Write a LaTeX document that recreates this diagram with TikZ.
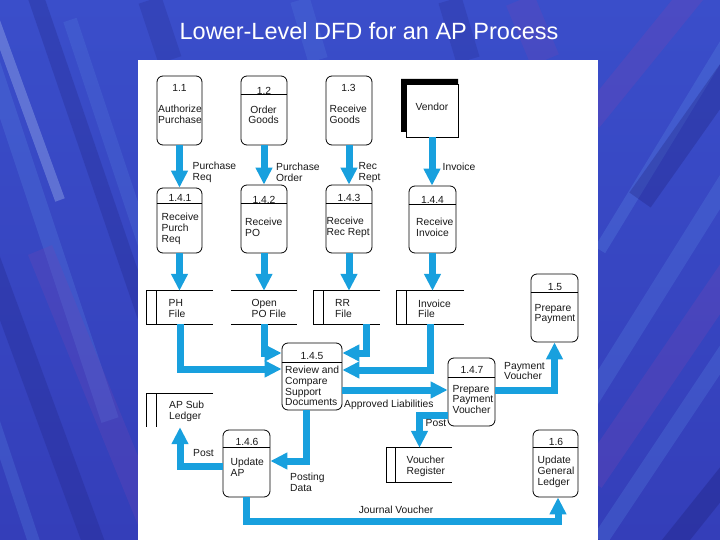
\documentclass[tikz,border=0pt]{standalone}
\usepackage{fontspec}
\setmainfont{Liberation Sans}
\usetikzlibrary{arrows.meta,calc}
\definecolor{flowblue}{RGB}{24,160,222}
\definecolor{bgTop}{RGB}{58,78,202}
\definecolor{bgBot}{RGB}{52,62,185}
\definecolor{navy}{RGB}{30,32,125}
\definecolor{pale}{RGB}{170,190,240}
\definecolor{light}{RGB}{85,125,222}
\definecolor{violet}{RGB}{115,70,180}
\tikzset{
  proc/.style={draw=black, line width=0.8pt, rounded corners=6pt, fill=white, inner sep=0pt},
  storebox/.style={draw=none, inner sep=0pt, minimum width=66pt, minimum height=33pt},
  storeline/.style={draw=black, line width=0.8pt},
  sepline/.style={draw=black, line width=0.8pt},
  flow/.style={draw=flowblue, line width=7pt, line join=miter, -{Triangle[width=16pt,length=17pt]}},
  lbl/.style={font=\fontsize{10.3}{10.7}\selectfont, inner sep=0pt, align=left, text=black!90, anchor=west},
  idlbl/.style={font=\fontsize{10.3}{10.7}\selectfont, inner sep=0pt, align=center, text=black!90},
  streak/.style={line cap=butt, line width=#1},
  streak/.default=14pt,
}
\begin{document}
\begin{tikzpicture}[x=1pt,y=-1pt]
\useasboundingbox (0,0) rectangle (720,540);
% background
\begin{scope}
\clip (0,0) rectangle (720,540);
\shade[top color=bgTop, bottom color=bgBot] (0,0) rectangle (720,540);
% left streaks (upper left to lower right)
\draw[streak=10pt, pale, opacity=0.35] (-20,-20) -- (60,200);
\draw[streak=18pt, light, opacity=0.3] (-10,60) -- (110,420);
\draw[streak=16pt, navy, opacity=0.25] (30,-20) -- (150,330);
\draw[streak=22pt, navy, opacity=0.25] (-40,180) -- (100,560);
\draw[streak=26pt, violet, opacity=0.25] (40,250) -- (150,520);
\draw[streak=12pt, light, opacity=0.3] (-20,380) -- (40,560);
\draw[streak=14pt, light, opacity=0.25] (70,20) -- (150,260);
% top streaks
\draw[streak=24pt, navy, opacity=0.2] (150,0) -- (170,60);
\draw[streak=20pt, light, opacity=0.25] (300,0) -- (318,60);
\draw[streak=24pt, navy, opacity=0.2] (450,0) -- (468,60);
\draw[streak=30pt, violet, opacity=0.25] (520,0) -- (545,60);
% right streaks (lower left to upper right)
\draw[streak=24pt, violet, opacity=0.3] (590,120) -- (720,-40);
\draw[streak=12pt, light, opacity=0.35] (600,250) -- (740,20);
\draw[streak=26pt, navy, opacity=0.3] (640,200) -- (760,30);
\draw[streak=18pt, light, opacity=0.3] (590,400) -- (740,160);
\draw[streak=28pt, violet, opacity=0.3] (590,480) -- (740,260);
\draw[streak=16pt, light, opacity=0.3] (600,540) -- (740,330);
\draw[streak=22pt, navy, opacity=0.35] (660,560) -- (740,460);
\end{scope}
% white panel
\fill[white] (138,60) rectangle (598,540);
% title
\node[font=\fontsize{23.5}{28}\selectfont, text=white] (title) at (369,31) {Lower-Level DFD for an AP Process};

% process boxes
\node[proc, minimum width=45pt, minimum height=69pt] (p11) at (179.5,110.5) {};
\node[proc, minimum width=46pt, minimum height=69pt] (p12) at (264,110.5) {};
\node[proc, minimum width=46pt, minimum height=69pt] (p13) at (349,110.5) {};
\node[proc, minimum width=45pt, minimum height=65pt] (p141) at (179.5,220.5) {};
\node[proc, minimum width=46pt, minimum height=68pt] (p142) at (264,219) {};
\node[proc, minimum width=46pt, minimum height=68pt] (p143) at (349,219) {};
\node[proc, minimum width=47pt, minimum height=67pt] (p144) at (432.5,219.5) {};
\node[proc, minimum width=47pt, minimum height=68pt] (p15) at (554.5,308) {};
\node[proc, minimum width=60pt, minimum height=67pt] (p145) at (312,376.5) {};
\node[proc, minimum width=47pt, minimum height=68pt] (p147) at (471.5,392) {};
\node[proc, minimum width=47pt, minimum height=67pt] (p146) at (246.5,463.5) {};
\node[proc, minimum width=45pt, minimum height=67pt] (p16) at (555.5,463.5) {};

% separators
\draw[sepline] (p12.west |- 0,94) -- (p12.east |- 0,94);
\draw[sepline] (p141.west |- 0,203.5) -- (p141.east |- 0,203.5);
\draw[sepline] (p142.west |- 0,203.5) -- (p142.east |- 0,203.5);
\draw[sepline] (p143.west |- 0,203.5) -- (p143.east |- 0,203.5);
\draw[sepline] (p144.west |- 0,204.5) -- (p144.east |- 0,204.5);
\draw[sepline] (p15.west |- 0,292.5) -- (p15.east |- 0,292.5);
\draw[sepline] (p145.west |- 0,362) -- (p145.east |- 0,362);
\draw[sepline] (p147.west |- 0,377) -- (p147.east |- 0,377);
\draw[sepline] (p146.west |- 0,447.5) -- (p146.east |- 0,447.5);
\draw[sepline] (p16.west |- 0,447.5) -- (p16.east |- 0,447.5);

% vendor
\fill[black] (401,79) -- (458,79) -- (458,84) -- (406,84) -- (406,132) -- (401,132) -- cycle;
\node[draw=black, line width=0.8pt, fill=white, inner sep=0pt, minimum width=52pt, minimum height=53pt] (vendor) at (432,110.5) {};
\node[idlbl] (tvendor) at (432,107) {Vendor};

% data stores
\node[storebox] (ph) at (180,307.5) {};
\draw[storeline] (ph.north east) -- (ph.north west) -- (ph.south west) -- (ph.south east);
\draw[storeline] ($(ph.north west)+(10,0)$) -- ($(ph.south west)+(10,0)$);
\node[storebox] (openpo) at (264,307.5) {};
\draw[storeline] (openpo.north west) -- (openpo.north east);
\draw[storeline] (openpo.south west) -- (openpo.south east);
\node[storebox] (rr) at (347,307.5) {};
\draw[storeline] (rr.north east) -- (rr.north west) -- (rr.south west) -- (rr.south east);
\draw[storeline] ($(rr.north west)+(10,0)$) -- ($(rr.south west)+(10,0)$);
\node[storebox, minimum width=67pt] (invf) at (430.5,307.5) {};
\draw[storeline] (invf.north east) -- (invf.north west) -- (invf.south west) -- (invf.south east);
\draw[storeline] ($(invf.north west)+(10,0)$) -- ($(invf.south west)+(10,0)$);
\node[storebox] (apsub) at (180,410.5) {};
\draw[storeline] (apsub.north east) -- (apsub.north west) -- (apsub.south west);
\draw[storeline] ($(apsub.north west)+(10,0)$) -- ($(apsub.south west)+(10,0)$);
\node[storebox, minimum width=65pt, minimum height=34pt] (vreg) at (419.5,465) {};
\draw[storeline] (vreg.north east) -- (vreg.north west) -- (vreg.south west) -- (vreg.south east);
\draw[storeline] ($(vreg.north west)+(9,0)$) -- ($(vreg.south west)+(9,0)$);

% texts in processes
\node[idlbl] (t11) at (179.5,88) {1.1};
\node[idlbl] (t11b) at (180,114.5) {Authorize\\Purchase};
\node[idlbl] (t12) at (264,90.5) {1.2};
\node[idlbl] (t12b) at (263.5,114.8) {Order\\Goods};
\node[idlbl] (t13) at (348.5,88) {1.3};
\node[lbl] (t13b) at (329.5,114.5) {Receive\\Goods};
\node[idlbl] (t141) at (180,198) {1.4.1};
\node[lbl] (t141b) at (161.5,229) {Receive\\Purch\\Req};
\node[idlbl] (t142) at (264,199.5) {1.4.2};
\node[lbl] (t142b) at (245,227) {Receive\\PO};
\node[idlbl] (t143) at (349,197.5) {1.4.3};
\node[lbl] (t143b) at (326.5,227) {Receive\\Rec Rept};
\node[idlbl] (t144) at (432.5,200) {1.4.4};
\node[lbl] (t144b) at (416,227) {Receive\\Invoice};
\node[idlbl] (t15) at (555,287) {1.5};
\node[lbl] (t15b) at (534.5,314) {Prepare\\Payment};
\node[idlbl] (t145) at (312,356.5) {1.4.5};
\node[lbl] (t145b) at (285,386) {Review and\\Compare\\Support\\Documents};
\node[idlbl] (t147) at (472,370) {1.4.7};
\node[lbl] (t147b) at (452.5,399.5) {Prepare\\Payment\\Voucher};
\node[idlbl] (t146) at (247,441.7) {1.4.6};
\node[lbl] (t146b) at (230.5,467) {Update\\AP};
\node[idlbl] (t16) at (556,441.7) {1.6};
\node[lbl] (t16b) at (537.5,472) {Update\\General\\Ledger};

% texts in stores
\node[lbl] (tph) at (168.5,308.8) {PH\\File};
\node[lbl] (topen) at (251.5,308.8) {Open\\PO File};
\node[lbl] (trr) at (335,308.8) {RR\\File};
\node[lbl] (tinvf) at (418,308.8) {Invoice\\File};
\node[lbl] (tapsub) at (169,411.3) {AP Sub\\Ledger};
\node[lbl] (tvreg) at (406.5,466) {Voucher\\Register};

% flows
\draw[flow] (p11.south) -- (p11.south |- p141.north);
\draw[flow] (p12.south) -- (p12.south |- p142.north);
\draw[flow] (p13.south) -- (p13.south |- p143.north);
\draw[flow] (vendor.south) -- (vendor.south |- p144.north);
\draw[flow] (p141.south) -- (p141.south |- ph.north);
\draw[flow] (p142.south) -- (p142.south |- openpo.north);
\draw[flow] (p143.south) -- (p143.south |- rr.north);
\draw[flow] (p144.south) -- (p144.south |- invf.north);
\draw[flow] (ph.south) |- (p145.west |- 0,369);
\draw[flow] (openpo.south) |- (p145.west |- 0,353);
\draw[flow] (rr.south -| 366,0) |- (p145.east |- 0,353);
\draw[flow] (invf.south) |- (p145.east |- 0,370);
\draw[flow] (p145.east |- 0,390) -- (p147.west |- 0,390);
\draw[flow] (p147.east |- 0,390.7) -| (p15.south);
\draw[flow] (p147.west |- 0,415) -| (vreg.north);
\draw[flow] (p145.south -| 306,0) |- (p146.east |- 0,461);
\draw[flow] (p146.west |- 0,466.7) -| (apsub.south);
\coordinate (jvbend) at (400,521.7);
\draw[flow] (p146.south) |- (jvbend) -| (p16.south -| 558,0);

% flow labels
\node[lbl] (lpr) at (192.5,172.3) {Purchase\\Req};
\node[lbl] (lpo) at (276,172.3) {Purchase\\Order};
\node[lbl] (lrr) at (358.5,172.5) {Rec\\Rept};
\node[lbl] (linv) at (442.5,166.7) {Invoice};
\node[lbl] (lal) at (344,405.3) {Approved Liabilities};
\node[lbl] (lpv) at (504,371) {Payment\\Voucher};
\node[lbl] (lpost1) at (425.5,423.3) {Post};
\node[lbl] (lpd) at (290,482) {Posting\\Data};
\node[lbl] (lpost2) at (193,453.3) {Post};
\node[idlbl] (ljv) at (396,510) {Journal Voucher};
\end{tikzpicture}
\end{document}
